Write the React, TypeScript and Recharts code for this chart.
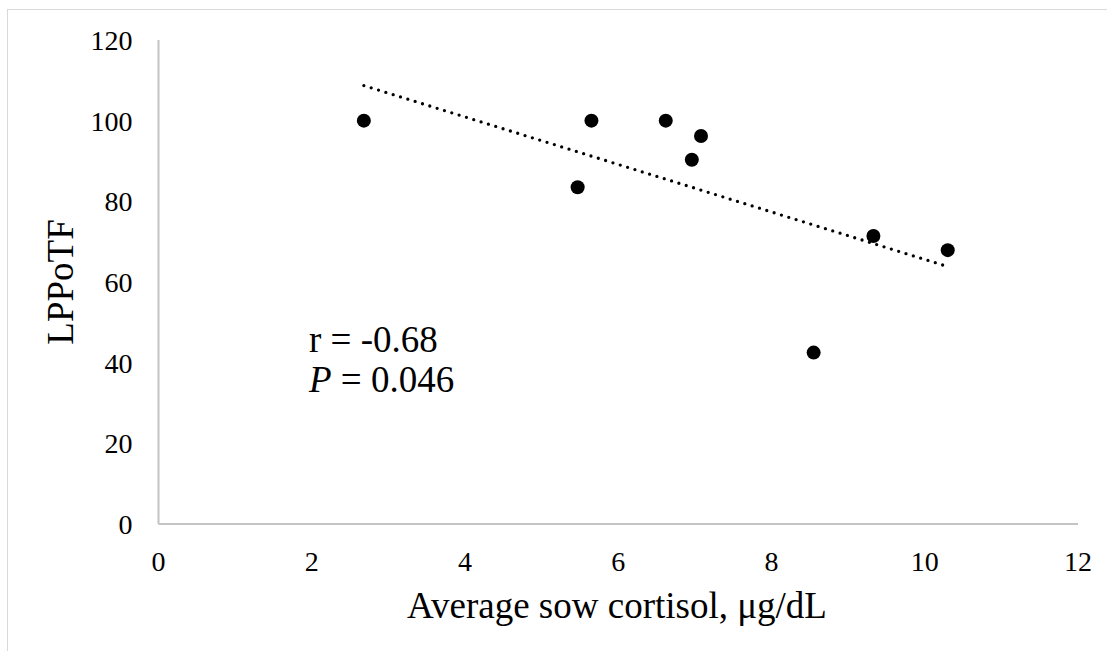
import { ScatterChart, Scatter, XAxis, YAxis, Customized } from "recharts";

const cortisol = [2.68, 5.47, 5.65, 6.62, 6.96, 7.08, 8.55, 9.33, 10.3];
const lppotf = [100, 83.5, 100, 100, 90.3, 96.2, 42.5, 71.4, 67.9];

// trendline end points
const trendX = [2.68, 10.27];
const trendY = [108.7, 64.0];

const xTicks = [0, 2, 4, 6, 8, 10, 12];
const yTicks = [0, 20, 40, 60, 80, 100, 120];

const points = cortisol.map((x, i) => ({ x, y: lppotf[i] }));
const trend = trendX.map((x, i) => ({ x, y: trendY[i] }));

const FONT = '"Liberation Serif", "Times New Roman", serif';
const AXIS = "#c4c4c4";
const TICK_SIZE = 28;
const TITLE_SIZE = 37;

function Dot(props: any) {
  return <circle cx={props.cx} cy={props.cy} r={7} fill="#000" />;
}

function XTick(props: any) {
  return (
    <text
      x={props.x}
      y={props.y}
      dy="0.71em"
      textAnchor="middle"
      fill="#000"
      fontSize={TICK_SIZE}
      style={{ fontFamily: FONT }}
    >
      {props.payload.value}
    </text>
  );
}

function YTick(props: any) {
  return (
    <text
      x={props.x}
      y={props.y}
      dy="0.355em"
      textAnchor="end"
      fill="#000"
      fontSize={TICK_SIZE}
      style={{ fontFamily: FONT }}
    >
      {props.payload.value}
    </text>
  );
}

function Notes() {
  return (
    <g style={{ fontFamily: FONT }} fill="#000">
      <text x={309} y={352} fontSize={TITLE_SIZE}>
        r = -0.68
      </text>
      <text x={309} y={392} fontSize={TITLE_SIZE}>
        <tspan fontStyle="italic">P</tspan> = 0.046
      </text>
      <text x={617} y={618} fontSize={TITLE_SIZE} textAnchor="middle">
        Average sow cortisol, μg/dL
      </text>
      <text
        x={73}
        y={282}
        fontSize={TITLE_SIZE}
        textAnchor="middle"
        transform="rotate(-90 73 282)"
      >
        LPPoTF
      </text>
    </g>
  );
}

export default function App() {
  return (
    <div
      style={{
        position: "absolute",
        left: 0,
        top: 0,
        width: 1107,
        height: 651,
        overflow: "hidden",
        background: "#fff",
        fontFamily: FONT,
      }}
    >
      <div
        style={{
          position: "absolute",
          left: 7,
          top: 9,
          width: 1200,
          height: 700,
          borderTop: "1px solid #d9d9d9",
          borderLeft: "1px solid #d9d9d9",
        }}
      />
      <div style={{ position: "absolute", left: 0, top: 0 }}>
        <ScatterChart
          width={1107}
          height={651}
          margin={{ top: 40, right: 29, left: 0, bottom: 0 }}
        >
          <XAxis
            type="number"
            dataKey="x"
            domain={[0, 12]}
            ticks={xTicks}
            height={127}
            tickSize={0}
            tickMargin={27}
            tickLine={false}
            axisLine={{ stroke: AXIS, strokeWidth: 2 }}
            tick={XTick}
            interval={0}
          />
          <YAxis
            type="number"
            dataKey="y"
            domain={[0, 120]}
            ticks={yTicks}
            width={158.5}
            tickSize={0}
            tickMargin={26}
            tickLine={false}
            axisLine={{ stroke: AXIS, strokeWidth: 2 }}
            tick={YTick}
            interval={0}
          />
          <Scatter
            data={trend}
            line={{
              stroke: "#000",
              strokeWidth: 3.3,
              strokeDasharray: "0 7.67",
              strokeLinecap: "round",
            }}
            lineType="joint"
            shape={() => <g />}
            isAnimationActive={false}
          />
          <Scatter data={points} shape={Dot} isAnimationActive={false} />
          <Customized component={Notes} />
        </ScatterChart>
      </div>
    </div>
  );
}
